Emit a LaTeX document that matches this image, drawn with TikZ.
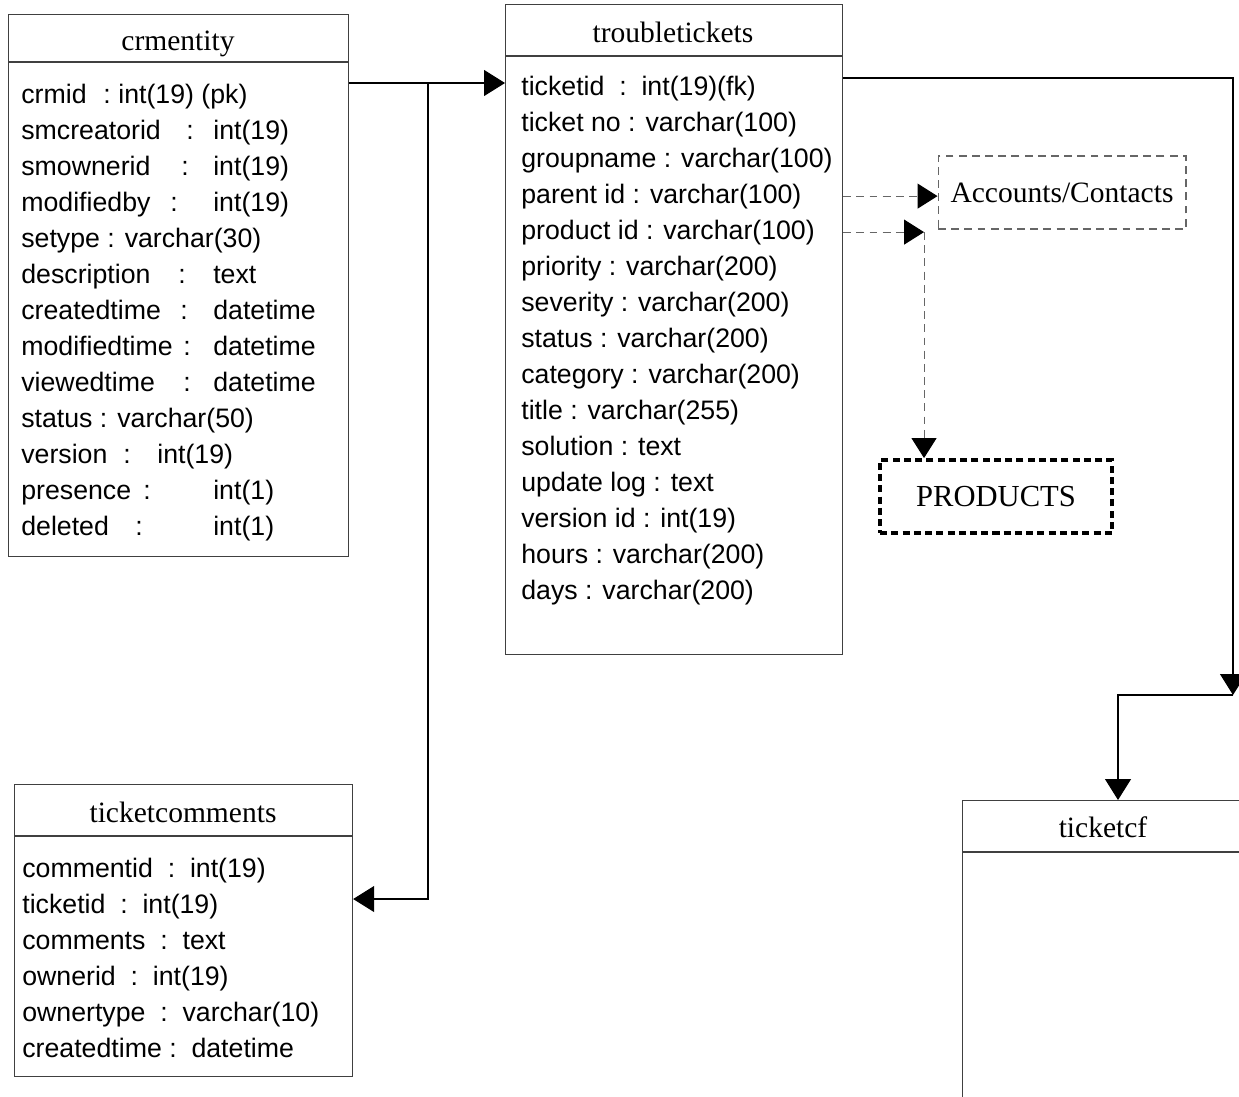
\documentclass[tikz,border=0pt]{standalone}
\usepackage{fontspec}
\setmainfont{Liberation Serif}
\setsansfont{Liberation Sans}
\usetikzlibrary{arrows.meta}
\newlength{\px}
\setlength{\px}{0.02cm}
\newcommand{\fld}[4]{\makebox[#1\px][l]{#3}\makebox[#2\px][l]{:}#4}

\begin{document}
\begin{tikzpicture}[x=0.02cm,y=-0.02cm,
  tbl/.style={draw=boxgray,line width=0.7pt,anchor=north west,inner sep=0pt},
  ttl/.style={anchor=base,inner sep=0pt,font=\fontsize{16.8}{20}\selectfont},
  attr/.style={anchor=base west,inner sep=0pt,font=\sffamily\fontsize{15.2}{18}\selectfont},
  link/.style={line width=0.6pt,-{Triangle[length=0.42cm,width=0.52cm]}},
  dlink/.style={draw=dashgray,line width=0.6pt,dash pattern=on 4.5pt off 3pt,
    -{Triangle[length=0.4cm,width=0.5cm,color=black]}},
  refbox/.style={draw=dashgray,line width=0.6pt,dash pattern=on 4.5pt off 3pt,
    font=\fontsize{16.8}{20}\selectfont},
  prodbox/.style={draw,line width=2.2pt,dash pattern=on 4pt off 2.4pt,
    font=\fontsize{17.4}{20}\selectfont}]
\definecolor{boxgray}{rgb}{0.25,0.25,0.25}
\definecolor{dashgray}{rgb}{0.4,0.4,0.4}

\clip (0,0) rectangle (1239,1096);

\node[tbl, minimum width=6.8cm, minimum height=10.84cm] (crmentity) at (8,14) {};
\node[tbl, minimum width=6.74cm, minimum height=13cm] (troubletickets) at (505,4) {};
\node[tbl, minimum width=6.76cm, minimum height=5.84cm] (ticketcomments) at (14,784) {};
\node[tbl, minimum width=5.64cm, minimum height=8cm] (ticketcf) at (962,800) {};

\path[draw=boxgray,line width=0.7pt] ([yshift=-0.96cm]crmentity.north west) -- ([yshift=-0.96cm]crmentity.north east);
\path[draw=boxgray,line width=0.7pt] ([yshift=-1.04cm]troubletickets.north west) -- ([yshift=-1.04cm]troubletickets.north east);
\path[draw=boxgray,line width=0.7pt] ([yshift=-1.04cm]ticketcomments.north west) -- ([yshift=-1.04cm]ticketcomments.north east);
\path[draw=boxgray,line width=0.7pt] ([yshift=-1.04cm]ticketcf.north west) -- ([yshift=-1.04cm]ticketcf.north east);

\node[ttl] (crmentity-t) at (178,50) {crmentity};
\node[ttl] (troubletickets-t) at (673,42) {troubletickets};
\node[ttl] (ticketcomments-t) at (183,822) {ticketcomments};
\node[ttl] (ticketcf-t) at (1103,837) {ticketcf};

\foreach \rowtext [count=\i] in {
  \fld{82}{15}{crmid}{int(19) (pk)},
  \fld{165}{27}{smcreatorid}{int(19)},
  \fld{160}{32}{smownerid}{int(19)},
  \fld{149}{43}{modifiedby}{int(19)},
  setype : varchar(30),
  \fld{157}{35}{description}{text},
  \fld{159}{33}{createdtime}{datetime},
  \fld{162}{30}{modifiedtime}{datetime},
  \fld{162}{30}{viewedtime}{datetime},
  status : varchar(50),
  \fld{102}{34}{version}{int(19)},
  \fld{122}{70}{presence}{int(1)},
  \fld{114}{78}{deleted}{int(1)}}
  \node[attr] (ce-\i) at (21,{103+36*(\i-1)}) {\rowtext};

\foreach \rowtext [count=\i] in {
  ticketid\ \ :\ \ int(19)(fk),
  ticket no : varchar(100),
  groupname : varchar(100),
  parent id : varchar(100),
  product id : varchar(100),
  priority : varchar(200),
  severity : varchar(200),
  status : varchar(200),
  category : varchar(200),
  title : varchar(255),
  solution : text,
  update log : text,
  version id : int(19),
  hours : varchar(200),
  days : varchar(200)}
  \node[attr] (tt-\i) at (521,{95+36*(\i-1)}) {\rowtext};

\foreach \rowtext [count=\i] in {
  commentid\ \ :\ \ int(19),
  ticketid\ \ :\ \ int(19),
  comments\ \ :\ \ text,
  ownerid\ \ :\ \ int(19),
  ownertype\ \ :\ \ varchar(10),
  createdtime :\ \ datetime}
  \node[attr] (tc-\i) at (22,{877+36*(\i-1)}) {\rowtext};

\node[refbox, minimum width=4.96cm, minimum height=1.46cm] (acc) at (1062,192.5) {Accounts/Contacts};
\node[prodbox, minimum width=4.64cm, minimum height=1.46cm] (prod) at (996,496.5) {PRODUCTS};

\coordinate (j1) at (428,83);
\coordinate (j2) at (428,899);
\coordinate (r1) at (1233,78);
\coordinate (r2) at (1233,695);
\coordinate (r3) at (1118,695);
\coordinate (pt) at ([xshift=-1.44cm]prod.north);

\path[draw,link] (crmentity.east |- j1) -- (troubletickets.west |- j1);
\path[draw,link] (j1) -- (j2) -- (ticketcomments.east |- j2);
\path[draw,link] (troubletickets.east |- r1) -- (r1) -- (r2);
\path[draw,link] (r2) -- (r3) -- (r3 |- ticketcf.north);
\path[dlink] (troubletickets.east |- tt-4) -- (acc.west |- tt-4);
\path[dlink] (troubletickets.east |- tt-5) -- (pt |- tt-5);
\path[dlink] (pt |- tt-5) -- (pt);
\end{tikzpicture}
\end{document}
